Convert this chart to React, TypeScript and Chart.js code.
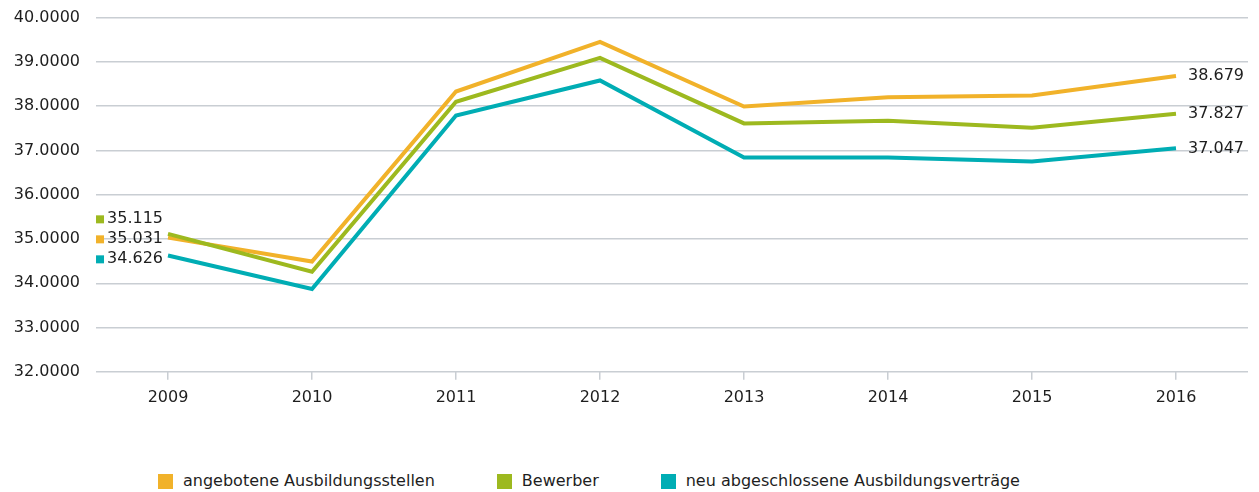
import React, { useEffect, useRef } from "react";
import { Chart, registerables } from "chart.js";

Chart.register(...registerables);

const years = ["2009", "2010", "2011", "2012", "2013", "2014", "2015", "2016"];
const angeboteneStellen = [35.031, 34.49, 38.33, 39.45, 37.99, 38.2, 38.24, 38.679];
const bewerber = [35.115, 34.26, 38.1, 39.09, 37.61, 37.67, 37.51, 37.827];
const neueVertraege = [34.626, 33.87, 37.79, 38.58, 36.84, 36.84, 36.75, 37.047];
const seriesNames = ["angebotene Ausbildungsstellen", "Bewerber", "neu abgeschlossene Ausbildungsverträge"];
const seriesColors = ["#f1b22a", "#9db91f", "#00adb4"];
const yMin = 32;
const yMax = 40;

const FONT = "'DejaVu Sans', sans-serif";
const TEXT = "#1e1e1e";

const fmt = (v: number) => v.toFixed(3);

const endLabels = {
  id: "endLabels",
  afterDatasetsDraw(chart: any) {
    const ctx = chart.ctx;
    ctx.save();
    ctx.font = `16px ${FONT}`;
    ctx.fillStyle = TEXT;
    ctx.textBaseline = "middle";
    chart.data.datasets.forEach((ds: any, i: number) => {
      const meta = chart.getDatasetMeta(i);
      const pt = meta.data[meta.data.length - 1];
      ctx.textAlign = "left";
      ctx.fillStyle = TEXT;
      ctx.fillText(fmt(ds.data[ds.data.length - 1]), pt.x + 12, pt.y);
    });
    const items = chart.data.datasets.map((ds: any, i: number) => {
      const pt = chart.getDatasetMeta(i).data[0];
      return { x: pt.x, y: pt.y, v: ds.data[0], c: ds.borderColor };
    });
    items.sort((a: any, b: any) => a.y - b.y);
    const gap = 20;
    const orig = items.map((it: any) => it.y);
    const pos: number[] = [];
    orig.forEach((y: number, k: number) => {
      pos.push(k === 0 ? y : Math.max(y, pos[k - 1] + gap));
    });
    const meanO = orig.reduce((a: number, b: number) => a + b, 0) / orig.length;
    const meanP = pos.reduce((a: number, b: number) => a + b, 0) / pos.length;
    const shift = meanO - meanP - 3;
    items.forEach((it: any, k: number) => {
      const y = pos[k] + shift;
      const text = fmt(it.v);
      ctx.textAlign = "right";
      ctx.fillStyle = TEXT;
      const tx = it.x - 5;
      ctx.fillText(text, tx, y);
      const w = ctx.measureText(text).width;
      ctx.fillStyle = it.c;
      ctx.fillRect(tx - w - 11, y - 4, 8, 8);
    });
    ctx.restore();
  },
};

export default function App() {
  const ref = useRef<HTMLCanvasElement>(null);
  useEffect(() => {
    if (!ref.current) return;
    const data = [angeboteneStellen, bewerber, neueVertraege];
    const orders = [2, 1, 3];
    const chart = new Chart(ref.current, {
      type: "line",
      data: {
        labels: years,
        datasets: data.map((d, i) => ({
          label: seriesNames[i],
          data: d,
          borderColor: seriesColors[i],
          backgroundColor: seriesColors[i],
          borderWidth: 4,
          pointRadius: 0,
          tension: 0,
          order: orders[i],
          borderJoinStyle: "miter" as const,
        })),
      },
      options: {
        animation: false,
        responsive: true,
        maintainAspectRatio: false,
        layout: { padding: { top: 0, right: 3, bottom: 0, left: 0 } },
        plugins: {
          legend: { display: false },
          tooltip: { enabled: false },
        },
        scales: {
          x: {
            offset: true,
            grid: {
              drawOnChartArea: false,
              drawTicks: true,
              tickLength: 8,
              color: "#c9ced3",
              lineWidth: 1.5,
            },
            border: { display: false },
            ticks: {
              padding: 8,
              color: TEXT,
              font: { family: FONT, size: 16 },
            },
          },
          y: {
            min: yMin,
            max: yMax,
            grid: { drawTicks: false, color: "#c9ced3", lineWidth: 1.5 },
            border: { display: false },
            ticks: {
              stepSize: 1,
              padding: 16,
              color: TEXT,
              font: { family: FONT, size: 16 },
              callback: (v: any) => Number(v).toFixed(4),
            },
            afterFit: (scale: any) => {
              scale.width = 88;
            },
          },
        },
      },
      plugins: [endLabels],
    });
    return () => chart.destroy();
  }, []);

  return (
    <div>
      <div style={{ position: "relative", width: 1243, height: 423, marginTop: -16 }}>
        <canvas ref={ref} />
      </div>
      <div
        style={{
          display: "flex",
          alignItems: "center",
          marginTop: 56,
          paddingLeft: 150,
          fontFamily: FONT,
          fontSize: 16,
          color: TEXT,
          lineHeight: "20px",
        }}
      >
        {seriesNames.map((n, i) => (
          <div key={n} style={{ display: "flex", alignItems: "center", marginRight: 62 }}>
            <span style={{ width: 15, height: 15, background: seriesColors[i], marginRight: 10, display: "inline-block" }} />
            <span>{n}</span>
          </div>
        ))}
      </div>
    </div>
  );
}
